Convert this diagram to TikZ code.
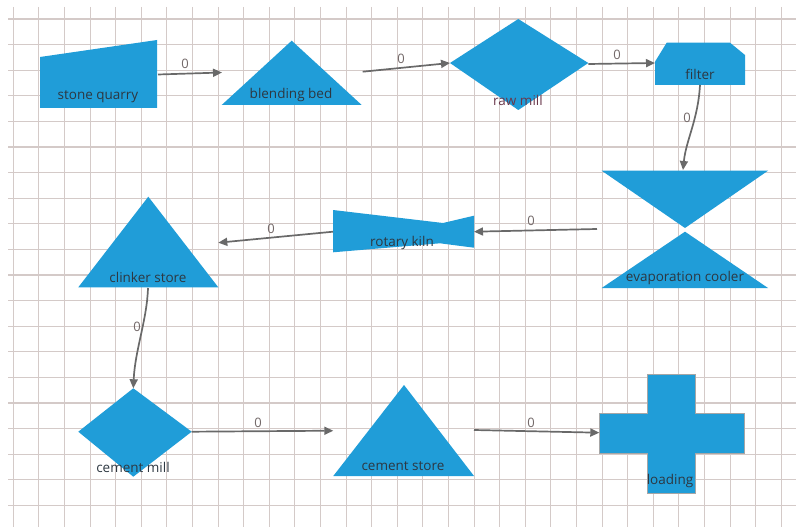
\documentclass[tikz,border=0pt]{standalone}
\usepackage{fontspec}
\setmainfont{Open Sans}
\usetikzlibrary{arrows.meta}
\definecolor{shapeblue}{RGB}{32,157,216}
\definecolor{gridc}{RGB}{212,202,200}
\definecolor{edgec}{RGB}{105,105,105}
\definecolor{labc}{RGB}{45,55,65}
\definecolor{numc}{RGB}{115,105,105}
\tikzset{
  blk/.style={fill=shapeblue, draw=none},
  lab/.style={font=\fontsize{13.5}{15}\selectfont, text=labc, inner sep=0pt},
  num/.style={font=\fontsize{13}{15}\selectfont, text=numc, inner sep=0pt},
  flow/.style={draw=edgec, line width=1.7pt, -{Triangle[length=9pt,width=8pt]}},
}
\begin{document}
\begin{tikzpicture}[x=1pt,y=-1pt]
\useasboundingbox (0,0) rectangle (796,527);
\fill[white] (0,0) rectangle (796,527);
% grid
\foreach \k in {0,...,30} {\draw[gridc, line width=1.1pt] ({13.3+25.6*\k},7) -- ({13.3+25.6*\k},527);}
\foreach \k in {0,...,19} {\draw[gridc, line width=1.1pt] (8,{19+25.6*\k}) -- (796,{19+25.6*\k});}

% stone quarry
\fill[blk] (40,57) -- (157,40) -- (157,108) -- (40,108) -- cycle;
\node[lab] (sq) at (98,97) {stone quarry};
\coordinate (sqR) at (158,74.5);
% blending bed
\fill[blk] (291.7,40.7) -- (361.7,105) -- (221.7,105) -- cycle;
\node[lab] (bb) at (291,95) {blending bed};
\coordinate (bbL) at (222,72.5);
\coordinate (bbR) at (362.7,71.7);
% raw mill
\fill[blk] (450,63) -- (518.3,19) -- (588.3,63) -- (518.3,110) -- cycle;
\node[lab, text={rgb,255:red,105;green,55;blue,75}] (rm) at (518,100) {raw mill};
\coordinate (rmL) at (450,63);
\coordinate (rmR) at (588.3,64);
% filter
\fill[blk] (655,61.7) -- (666.7,42.7) -- (730,42.7) -- (745,55) -- (745,85) -- (655,85) -- cycle;
\node[lab] (fi) at (700,74) {filter};
\coordinate (fiL) at (655,63);
\coordinate (fiB) at (700,85);
% evaporation cooler
\fill[blk] (601.7,170.7) -- (768,170.7) -- (685,228) -- cycle;
\fill[blk] (685,231.7) -- (768,288) -- (601.7,288) -- cycle;
\node[lab] (ec) at (685,278) {evaporation cooler};
\coordinate (ecT) at (683,170);
\coordinate (ecL) at (597,229);
% rotary kiln
\fill[blk] (333,210) -- (443,223) -- (474,215.7) -- (474,247.7) -- (440,243.3) -- (333,252.3) -- cycle;
\node[lab] (rk) at (402,243) {rotary kiln};
\coordinate (rkR) at (474,231.7);
\coordinate (rkL) at (333,231.7);
% clinker store
\fill[blk] (148.3,196.7) -- (218.3,287.3) -- (78.3,287.3) -- cycle;
\node[lab] (cl) at (148,277) {clinker store};
\coordinate (clR) at (218.3,242.7);
\coordinate (clB) at (148,288);
% cement mill
\fill[blk] (133.3,388.3) -- (191.7,431.7) -- (133.3,476.7) -- (78.3,431.7) -- cycle;
\node[lab] (cm) at (133,467) {cement mill};
\coordinate (cmT) at (133.3,388.3);
\coordinate (cmR) at (191.7,431.7);
% cement store
\fill[blk] (404,385) -- (474,476) -- (333.3,476) -- cycle;
\node[lab] (cs) at (403,466) {cement store};
\coordinate (csL) at (333.3,430.7);
\coordinate (csR) at (474,430);
% loading
\filldraw[fill=shapeblue, draw=gray!70, line width=0.6pt]
  (647.3,374) -- (695,374) -- (695,413.3) -- (744,413.3) -- (744,453.3) -- (695,453.3)
  -- (695,493.3) -- (647.3,493.3) -- (647.3,453.3) -- (599.3,453.3) -- (599.3,413.3)
  -- (647.3,413.3) -- cycle;
\node[lab] (lo) at (670,481) {loading};
\coordinate (loL) at (599.3,432.7);

% connectors
\draw[flow] (sqR) -- (bbL);
\node[num] (n1) at (185,64) {0};
\draw[flow] (bbR) -- (rmL);
\node[num] (n2) at (401,59) {0};
\draw[flow] (rmR) -- (fiL);
\node[num] (n3) at (617,55) {0};
\draw[flow] (fiB) .. controls (698,120) and (686,140) .. (ecT);
\node[num] (n4) at (687,118) {0};
\draw[flow] (ecL) -- (rkR);
\node[num] (n5) at (531,221) {0};
\draw[flow] (rkL) -- (clR);
\node[num] (n6) at (271,229) {0};
\draw[flow] (clB) .. controls (147,320) and (135,350) .. (cmT);
\node[num] (n7) at (137,327) {0};
\draw[flow] (cmR) -- (csL);
\node[num] (n8) at (258,423) {0};
\draw[flow] (csR) -- (loL);
\node[num] (n9) at (531,423) {0};
\end{tikzpicture}
\end{document}
